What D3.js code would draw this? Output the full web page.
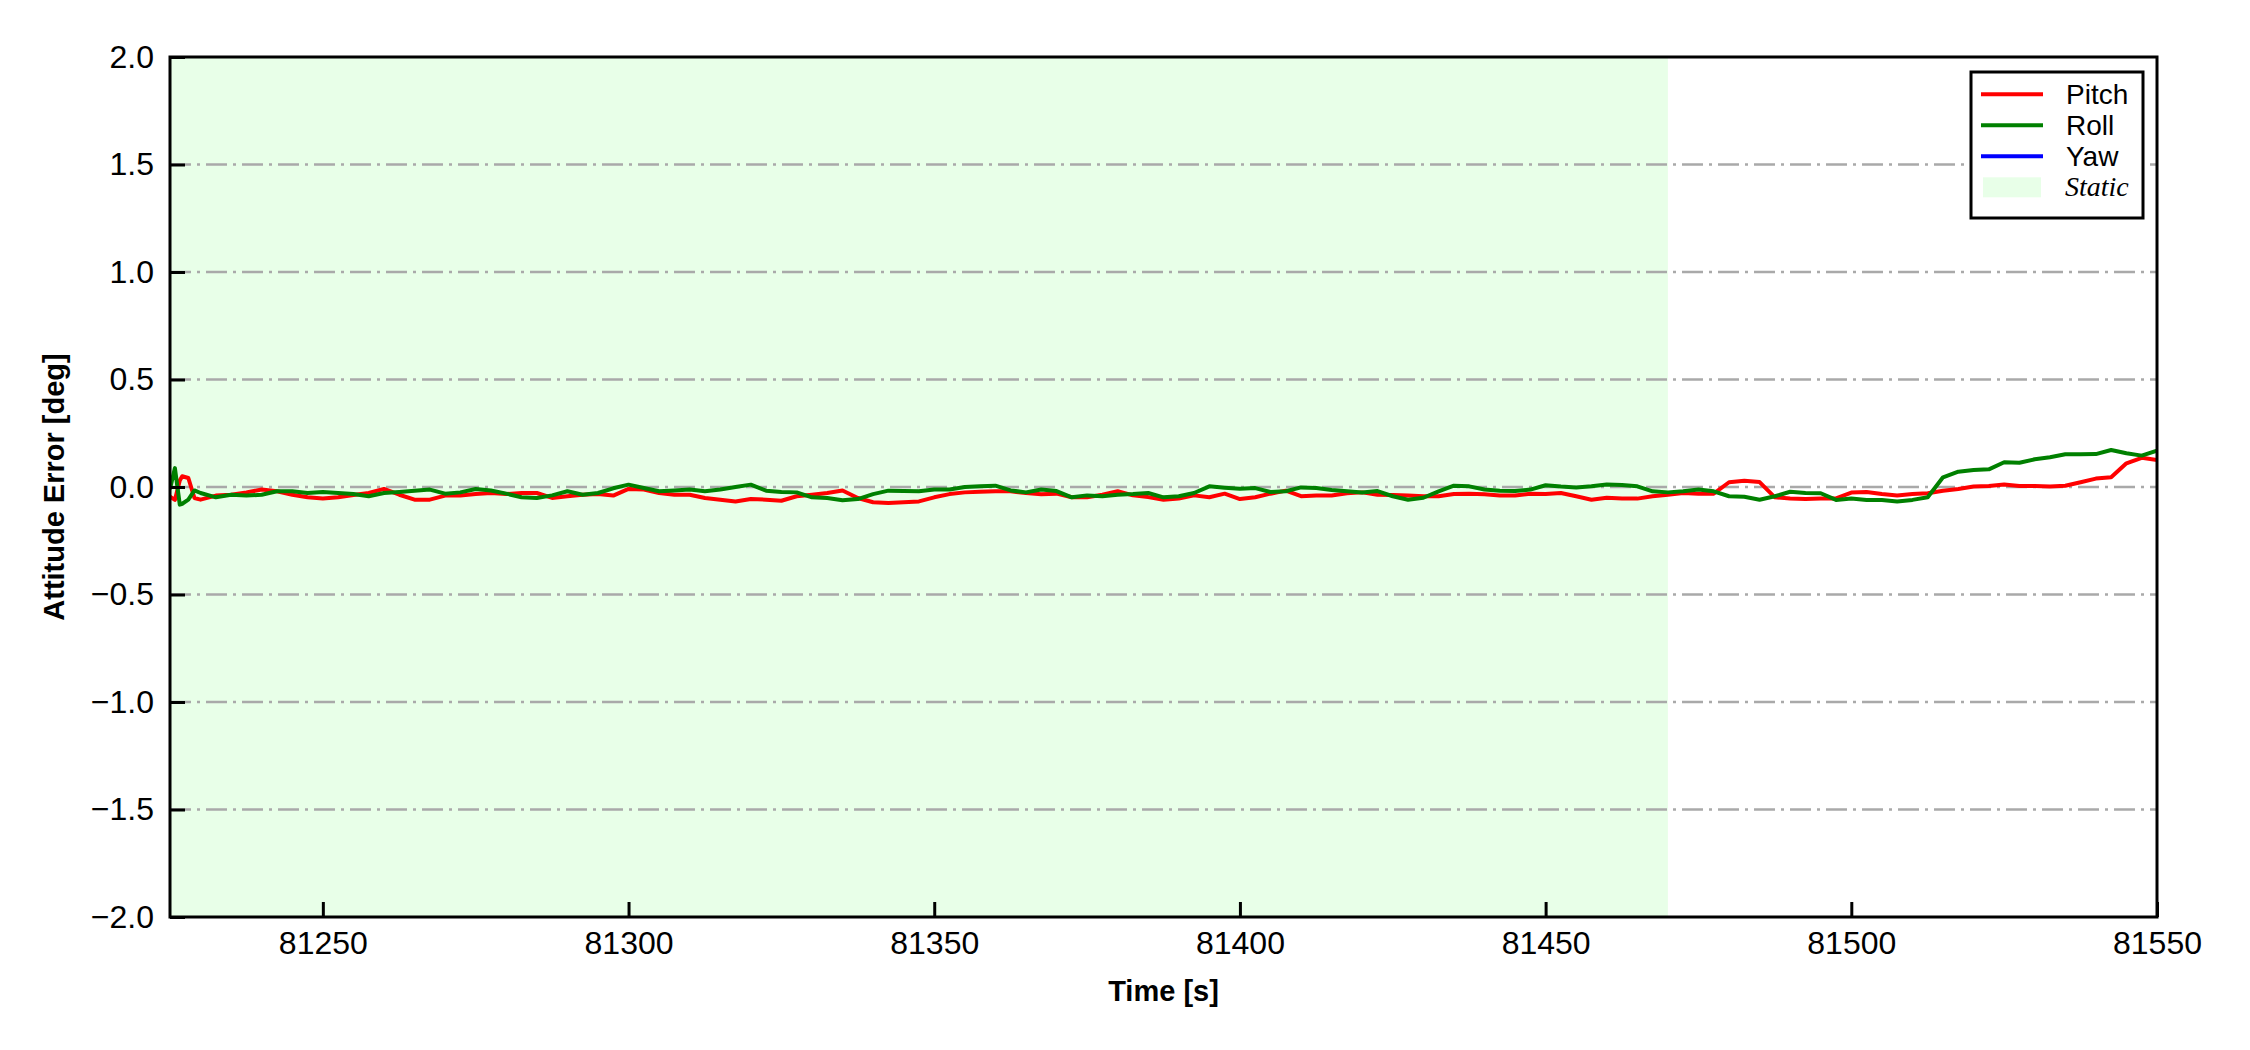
<!DOCTYPE html>
<html><head><meta charset="utf-8">
<script src="https://cdn.jsdelivr.net/npm/d3@7"></script>
<style>body{margin:0;background:#fff}</style>
</head><body><svg id="chart" width="2250" height="1050"></svg>
<script>
// ---- data ----
const times = [81225, 81225.8, 81226.6, 81227, 81228, 81229, 81230,
  81232.5, 81235, 81237.5, 81240, 81242.5, 81245, 81247.5, 81250, 81252.5, 81255, 81257.5, 81260,
  81262.5, 81265, 81267.5, 81270, 81272.5, 81275, 81277.5, 81280, 81282.5, 81285, 81287.5, 81290,
  81292.5, 81295, 81297.5, 81300, 81302.5, 81305, 81307.5, 81310, 81312.5, 81315, 81317.5, 81320,
  81322.5, 81325, 81327.5, 81330, 81332.5, 81335, 81337.5, 81340, 81342.5, 81345, 81347.5, 81350,
  81352.5, 81355, 81357.5, 81360, 81362.5, 81365, 81367.5, 81370, 81372.5, 81375, 81377.5, 81380,
  81382.5, 81385, 81387.5, 81390, 81392.5, 81395, 81397.5, 81400, 81402.5, 81405, 81407.5, 81410,
  81412.5, 81415, 81417.5, 81420, 81422.5, 81425, 81427.5, 81430, 81432.5, 81435, 81437.5, 81440,
  81442.5, 81445, 81447.5, 81450, 81452.5, 81455, 81457.5, 81460, 81462.5, 81465, 81467.5, 81470,
  81472.5, 81475, 81477.5, 81480, 81482.5, 81485, 81487.5, 81490, 81492.5, 81495, 81497.5, 81500,
  81502.5, 81505, 81507.5, 81510, 81512.5, 81515, 81517.5, 81520, 81522.5, 81525, 81527.5, 81530,
  81532.5, 81535, 81537.5, 81540, 81542.5, 81545, 81547.5, 81550];

const pitch = [-0.045, -0.06, 0.03, 0.05, 0.042, -0.051, -0.059,
  -0.04, -0.036, -0.025, -0.012, -0.02, -0.036, -0.048, -0.054, -0.048, -0.037, -0.028, -0.009,
  -0.036, -0.059, -0.059, -0.04, -0.04, -0.033, -0.028, -0.033, -0.028, -0.028, -0.051, -0.043,
  -0.036, -0.033, -0.04, -0.009, -0.012, -0.028, -0.036, -0.036, -0.051, -0.059, -0.067, -0.056,
  -0.059, -0.064, -0.043, -0.036, -0.028, -0.016, -0.051, -0.071, -0.074, -0.071, -0.067, -0.048,
  -0.033, -0.025, -0.022, -0.02, -0.02, -0.028, -0.034, -0.031, -0.048, -0.048, -0.036, -0.02,
  -0.039, -0.047, -0.059, -0.054, -0.039, -0.048, -0.031, -0.056, -0.048, -0.031, -0.017, -0.043,
  -0.04, -0.04, -0.029, -0.025, -0.036, -0.037, -0.04, -0.043, -0.043, -0.033, -0.031, -0.034,
  -0.039, -0.04, -0.031, -0.033, -0.028, -0.043, -0.059, -0.05, -0.053, -0.054, -0.043, -0.036,
  -0.028, -0.031, -0.031, 0.022, 0.029, 0.023, -0.048, -0.053, -0.056, -0.054, -0.053, -0.026,
  -0.023, -0.033, -0.039, -0.033, -0.029, -0.017, -0.009, 0.002, 0.005, 0.012, 0.005, 0.005,
  0.002, 0.006, 0.022, 0.039, 0.045, 0.11, 0.136, 0.126];

const roll = [-0.01, 0.088, -0.082, -0.078, -0.059, -0.016, -0.028,
  -0.048, -0.036, -0.04, -0.036, -0.02, -0.02, -0.028, -0.023, -0.028, -0.033, -0.043, -0.028,
  -0.023, -0.017, -0.012, -0.031, -0.025, -0.009, -0.016, -0.031, -0.048, -0.051, -0.039, -0.02,
  -0.036, -0.028, -0.006, 0.011, -0.005, -0.02, -0.016, -0.012, -0.02, -0.012, 0, 0.011,
  -0.017, -0.023, -0.025, -0.048, -0.051, -0.062, -0.056, -0.033, -0.017, -0.019, -0.02, -0.012,
  -0.012, 0, 0.003, 0.006, -0.016, -0.025, -0.012, -0.019, -0.048, -0.039, -0.043, -0.036,
  -0.033, -0.028, -0.048, -0.043, -0.028, 0.003, -0.003, -0.008, -0.005, -0.023, -0.02, -0.002,
  -0.005, -0.014, -0.02, -0.026, -0.019, -0.043, -0.059, -0.05, -0.02, 0.006, 0.003, -0.012,
  -0.017, -0.019, -0.012, 0.008, 0.002, -0.002, 0.003, 0.012, 0.009, 0.003, -0.02, -0.025,
  -0.02, -0.012, -0.02, -0.043, -0.045, -0.059, -0.043, -0.022, -0.028, -0.029, -0.06, -0.054,
  -0.06, -0.06, -0.067, -0.06, -0.048, 0.045, 0.071, 0.079, 0.082, 0.115, 0.113, 0.129,
  0.138, 0.152, 0.152, 0.153, 0.172, 0.157, 0.146, 0.169];

const yaw = []; // not visible within the plotted range

const staticInterval = [81225, 81470];
const xDomain = [81225, 81550];
const yDomain = [-2, 2];
const xTicks = [81250, 81300, 81350, 81400, 81450, 81500, 81550];
const yTicks = [-2, -1.5, -1, -0.5, 0, 0.5, 1, 1.5, 2];
const gridTicks = [-1.5, -1, -0.5, 0, 0.5, 1, 1.5];
const seriesNames = ["Pitch", "Roll", "Yaw"];
const seriesColors = ["#ff0000", "#008000", "#0000ff"];
const staticLabel = "Static";

// ---- drawing ----
const svg = d3.select("#chart");
const m = {left: 170, right: 2157, top: 57, bottom: 917};
const FONT = "'Liberation Sans', Arial, Helvetica, sans-serif";
const x = d3.scaleLinear().domain(xDomain).range([m.left, m.right]);
const y = d3.scaleLinear().domain(yDomain).range([m.bottom, m.top]);

svg.append("rect").attr("width", 2250).attr("height", 1050).attr("fill", "#fff");

svg.append("defs").append("clipPath").attr("id", "clip")
  .append("rect").attr("x", m.left).attr("y", m.top)
  .attr("width", m.right - m.left).attr("height", m.bottom - m.top);

// static shading
svg.append("rect")
  .attr("x", x(staticInterval[0])).attr("y", m.top)
  .attr("width", x(staticInterval[1]) - x(staticInterval[0]))
  .attr("height", m.bottom - m.top)
  .attr("fill", "#e8ffe8");

// grid
svg.append("g").selectAll("line").data(gridTicks).join("line")
  .attr("x1", m.left).attr("x2", m.right)
  .attr("y1", d => y(d)).attr("y2", d => y(d))
  .attr("stroke", "#a9a9a9").attr("stroke-width", 2.6)
  .attr("stroke-dasharray", "21,6,3,6");

// lines
const series = [pitch, roll, yaw];
const line = d3.line().x((d, i) => x(times[i])).y(d => y(d));
const lg = svg.append("g").attr("clip-path", "url(#clip)");
series.forEach((vals, k) => {
  if (!vals.length) return;
  lg.append("path").datum(vals).attr("d", line)
    .attr("fill", "none").attr("stroke", seriesColors[k])
    .attr("stroke-width", 4).attr("stroke-linejoin", "round");
});

// axes
const xAxis = d3.axisBottom(x).tickValues(xTicks).tickFormat(d3.format("d"))
  .tickSizeInner(-15).tickSizeOuter(0).tickPadding(14);
const gx = svg.append("g").attr("transform", `translate(0,${m.bottom})`).call(xAxis);
const yAxis = d3.axisLeft(y).tickValues(yTicks).tickFormat(d3.format(".1f"))
  .tickSizeInner(-15).tickSizeOuter(0).tickPadding(16);
const gy = svg.append("g").attr("transform", `translate(${m.left},0)`).call(yAxis);
[gx, gy].forEach(g => {
  g.select(".domain").remove();
  g.selectAll(".tick line").attr("stroke", "#000").attr("stroke-width", 3);
  g.selectAll(".tick text").attr("fill", "#000")
    .style("font-family", FONT).style("font-size", "32px");
});

// frame
svg.append("rect").attr("x", m.left).attr("y", m.top)
  .attr("width", m.right - m.left).attr("height", m.bottom - m.top)
  .attr("fill", "none").attr("stroke", "#000").attr("stroke-width", 3);

// axis labels
svg.append("text").attr("x", (m.left + m.right) / 2).attr("y", 1001)
  .attr("text-anchor", "middle").style("font-family", FONT)
  .style("font-size", "29px").style("font-weight", "bold").text("Time [s]");
svg.append("text").attr("transform", `translate(64,${(m.top + m.bottom) / 2}) rotate(-90)`)
  .attr("text-anchor", "middle").style("font-family", FONT)
  .style("font-size", "29px").style("font-weight", "bold").text("Attitude Error [deg]");

// legend
const leg = svg.append("g");
leg.append("rect").attr("x", 1971).attr("y", 72).attr("width", 172).attr("height", 146)
  .attr("fill", "#fff").attr("stroke", "#000").attr("stroke-width", 3);
const rowY = i => 94.3 + i * 31;
seriesNames.forEach((name, i) => {
  leg.append("line").attr("x1", 1981).attr("x2", 2043)
    .attr("y1", rowY(i)).attr("y2", rowY(i))
    .attr("stroke", seriesColors[i]).attr("stroke-width", 4);
  leg.append("text").attr("x", 2066).attr("y", rowY(i) + 10)
    .style("font-family", FONT).style("font-size", "28px").text(name);
});
leg.append("rect").attr("x", 1983).attr("y", rowY(3) - 10).attr("width", 58).attr("height", 20)
  .attr("fill", "#e8ffe8");
leg.append("text").attr("x", 2065).attr("y", rowY(3) + 9)
  .style("font-family", "'Liberation Serif', 'Times New Roman', serif")
  .style("font-style", "italic").style("font-size", "28px").text(staticLabel);
</script>
</body></html>
